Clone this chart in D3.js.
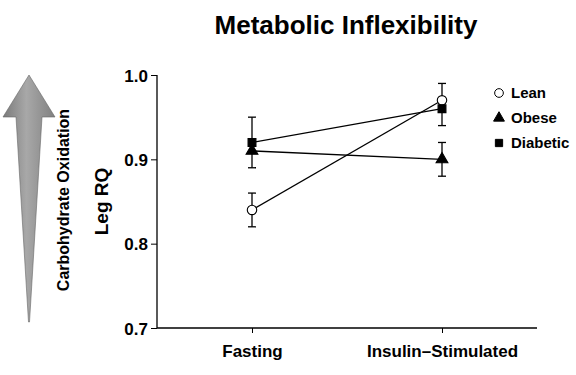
<!DOCTYPE html>
<html>
<head>
<meta charset="utf-8">
<script src="https://cdn.jsdelivr.net/npm/d3@7"></script>
<style>
  body { margin: 0; background: #fff; }
  text { font-family: "Liberation Sans", Arial, sans-serif; font-weight: bold; fill: #000; }
</style>
</head>
<body>
<div id="chart"></div>
<script>
var conditions = ["Fasting", "Insulin\u2013Stimulated"];
var groups = ["Lean", "Obese", "Diabetic"];
var leanRQ = [0.84, 0.97];
var obeseRQ = [0.91, 0.90];
var diabeticRQ = [0.92, 0.96];
// error bars as drawn (null = that half is not shown in the figure)
var leanErrUp = [0.02, 0.02];
var leanErrDown = [0.02, null];
var obeseErrUp = [null, 0.02];
var obeseErrDown = [0.02, 0.02];
var diabeticErrUp = [0.03, null];
var diabeticErrDown = [null, 0.02];
var yTicks = [0.7, 0.8, 0.9, 1.0];

var width = 576, height = 375;
var margin = {left: 157, right: 39, top: 75, bottom: 47};

var svg = d3.select('#chart')
    .append('svg')
    .attr('width', width)
    .attr('height', height);

var x = d3.scalePoint()
    .domain(conditions)
    .range([margin.left, width - margin.right])
    .padding(0.5);

var y = d3.scaleLinear()
    .domain([0.7, 1.0])
    .range([height - margin.bottom, margin.top]);

// title
svg.append('text')
    .attr('x', 346)
    .attr('y', 34)
    .attr('text-anchor', 'middle')
    .style('font-size', '26px')
    .text('Metabolic Inflexibility');

// axes
var yAxis = d3.axisLeft(y)
    .tickValues(yTicks)
    .tickFormat(d3.format('.1f'))
    .tickSize(6)
    .tickPadding(3);

var gy = svg.append('g')
    .attr('transform', 'translate(' + margin.left + ',0)')
    .call(yAxis);
gy.select('.domain').attr('stroke', '#000').attr('stroke-width', 1.3).attr('d', 'M0,' + y(1.0) + 'V' + y(0.7));
gy.selectAll('text').style('font-size', '17px').attr('dy', '0.36em');

var xAxis = d3.axisBottom(x)
    .tickSize(5)
    .tickPadding(9);

var gx = svg.append('g')
    .attr('transform', 'translate(0,' + y(0.7) + ')')
    .call(xAxis);
gx.select('.domain').attr('stroke', '#000').attr('stroke-width', 1.3)
    .attr('d', 'M' + margin.left + ',0H' + (width - margin.right));
gx.selectAll('text').style('font-size', '17px').attr('dy', '0.9em');

svg.append('text')
    .attr('transform', 'translate(108,' + ((y(0.7) + y(1.0)) / 2) + ') rotate(-90)')
    .attr('text-anchor', 'middle')
    .style('font-size', '19px')
    .text('Leg RQ');

// arrow
var defs = svg.append('defs');
var grad = defs.append('linearGradient').attr('id', 'arrowGrad')
    .attr('x1', '0%').attr('x2', '100%').attr('y1', '0%').attr('y2', '0%');
grad.append('stop').attr('offset', '0%').attr('stop-color', '#7a7a7a');
grad.append('stop').attr('offset', '45%').attr('stop-color', '#a8a8a8');
grad.append('stop').attr('offset', '100%').attr('stop-color', '#808080');

svg.append('path')
    .attr('d', 'M29,75 L55,117 L42,117 L29.5,322 L28.5,322 L16,117 L3,117 Z')
    .attr('fill', 'url(#arrowGrad)')
    .attr('stroke', '#666')
    .attr('stroke-width', 0.6);

svg.append('text')
    .attr('transform', 'translate(69,200) rotate(-90)')
    .attr('text-anchor', 'middle')
    .style('font-size', '16px')
    .text('Carbohydrate Oxidation');

// series
var series = [
    {name: groups[0], values: leanRQ, up: leanErrUp, down: leanErrDown, shape: 'circle'},
    {name: groups[1], values: obeseRQ, up: obeseErrUp, down: obeseErrDown, shape: 'triangle'},
    {name: groups[2], values: diabeticRQ, up: diabeticErrUp, down: diabeticErrDown, shape: 'square'}
];

var line = d3.line()
    .x(function(d, i) { return x(conditions[i]); })
    .y(function(d) { return y(d); });

var symbolType = {circle: d3.symbolCircle, triangle: d3.symbolTriangle, square: d3.symbolSquare};
var symbolSize = {circle: 70, triangle: 60, square: 62};

function errBar(g, cx, v, e) {
    if (e == null) return;
    var y0 = y(v), y1 = y(v + e);
    g.append('line').attr('x1', cx).attr('x2', cx).attr('y1', y0).attr('y2', y1)
        .attr('stroke', '#000').attr('stroke-width', 1.3);
    g.append('line').attr('x1', cx - 4).attr('x2', cx + 4).attr('y1', y1).attr('y2', y1)
        .attr('stroke', '#000').attr('stroke-width', 1.3);
}

series.forEach(function(s) {
    var g = svg.append('g');
    g.append('path')
        .attr('d', line(s.values))
        .attr('fill', 'none')
        .attr('stroke', '#000')
        .attr('stroke-width', 1.3);
    s.values.forEach(function(v, i) {
        var cx = x(conditions[i]);
        errBar(g, cx, v, s.up[i]);
        errBar(g, cx, v, s.down[i] == null ? null : -s.down[i]);
    });
});

series.forEach(function(s) {
    svg.append('g').selectAll('path')
        .data(s.values)
        .enter()
        .append('path')
        .attr('transform', function(d, i) { return 'translate(' + x(conditions[i]) + ',' + y(d) + ')'; })
        .attr('d', d3.symbol().type(symbolType[s.shape]).size(symbolSize[s.shape]))
        .attr('fill', s.shape === 'circle' ? '#fff' : '#000')
        .attr('stroke', '#000')
        .attr('stroke-width', 1.1);
});

// legend
var legend = svg.append('g').attr('transform', 'translate(499,93)');
series.forEach(function(s, i) {
    var row = legend.append('g').attr('transform', 'translate(0,' + (i * 25) + ')');
    row.append('path')
        .attr('d', d3.symbol().type(symbolType[s.shape]).size(symbolSize[s.shape] * 0.85))
        .attr('fill', s.shape === 'circle' ? '#fff' : '#000')
        .attr('stroke', '#000')
        .attr('stroke-width', 1);
    row.append('text')
        .attr('x', 12)
        .attr('dy', '0.36em')
        .style('font-size', '15px')
        .text(s.name);
});
</script>
</body>
</html>
